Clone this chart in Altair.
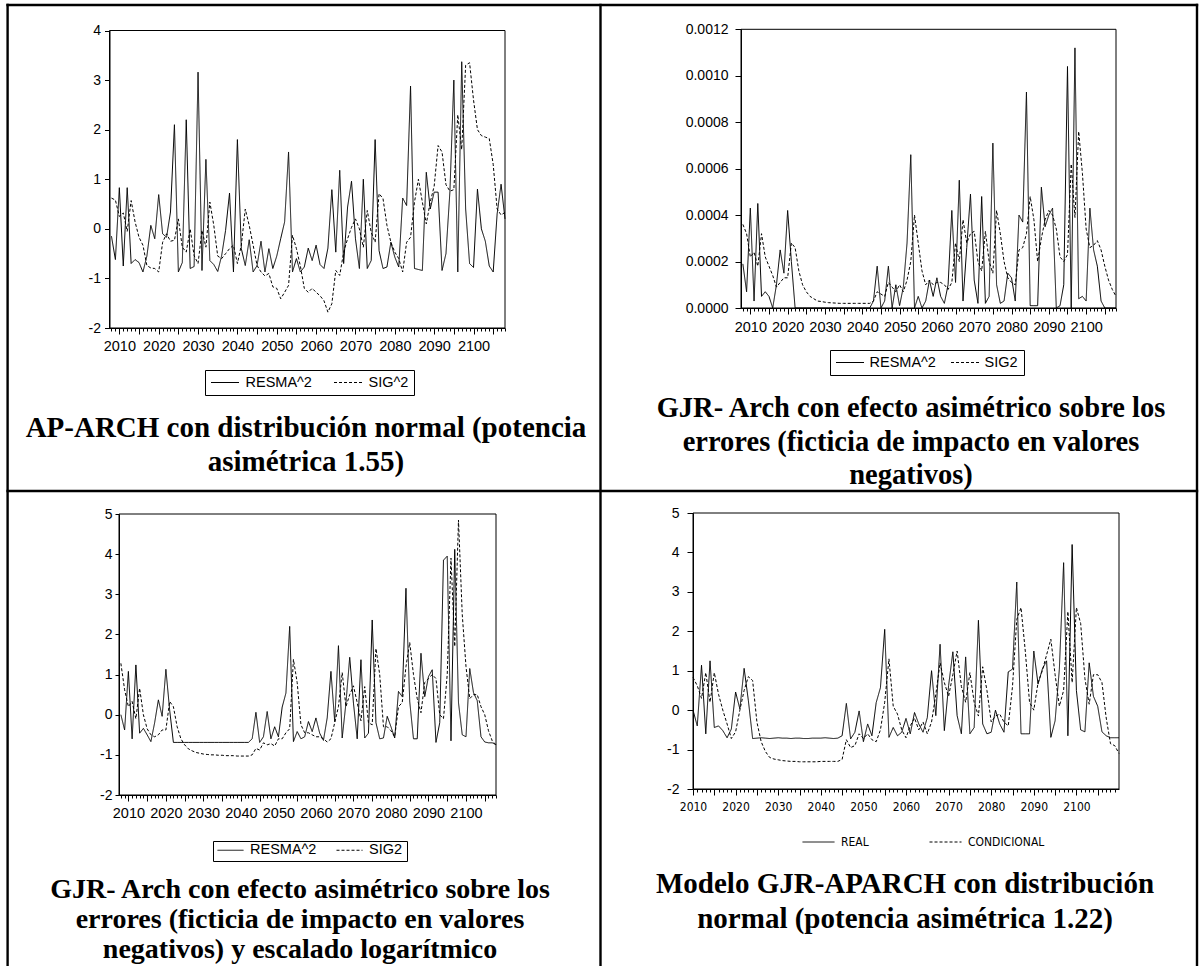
import altair as alt
import pandas as pd

W, H = 1202, 966

# ---------------- data ----------------
# Panel 1: AP-ARCH (years 2008-2108)
p1_start = 2008
p1_resma = [
    -0.15, -0.62, 0.83, -0.75, 0.83, -0.70, -0.62, -0.68, -0.87, -0.55,
    0.07, -0.20, 0.69, -0.10, -0.17, 0.34, 2.10, -0.87, -0.68, 2.20,
    -0.80, -0.76, 3.16, -0.84, 1.40, -0.64, -0.72, -0.86, -0.54, -0.03,
    0.72, -0.87, 1.80, -0.40, -0.74, -0.22, -0.87, -0.74, -0.25, -0.87,
    -0.40, -0.80, -0.55, -0.20, 0.14, 1.55, -0.87, -0.60, -0.87, -0.77,
    -0.39, -0.64, -0.33, -0.72, -0.80, -0.39, 0.79, -0.47, 1.18, -0.70,
    0.44, 0.96, -0.20, -0.80, 1.00, -0.80, -0.64, 1.80, -0.44, -0.80,
    -0.77, -0.27, -0.57, -0.77, 0.62, 0.47, 2.88, -0.80, -0.82, -0.84,
    1.14, 0.40, 0.74, 0.74, -0.84, -0.50, 0.75, 3.00, -0.87, 3.37,
    0.40, -0.70, -0.78, 0.80, 0.00, -0.25, -0.75, -0.87, 0.30, 0.90, 0.20,
]
p1_sig = [
    0.62, 0.58, 0.25, 0.32, -0.05, 0.57, 0.14, -0.17, -0.33, -0.74,
    -0.79, -0.80, -0.87, -0.27, -0.10, -0.25, -0.23, 0.20, -0.37, -0.47,
    0.00, -0.54, -0.70, -0.03, -0.37, 0.54, 0.07, -0.55, -0.60, -0.50,
    -0.40, -0.33, -0.70, -0.33, 0.40, 0.07, -0.33, -0.74, -0.87, -0.95,
    -0.90, -1.17, -1.20, -1.41, -1.28, -1.14, -0.13, -0.40, -0.75, -1.20,
    -1.28, -1.20, -1.28, -1.35, -1.45, -1.68, -1.51, -0.84, -0.94, -0.47,
    -0.20, 0.03, 0.20, 0.00, -0.37, 0.37, -0.07, -0.27, 0.71, 0.61,
    0.07, -0.27, -0.47, -0.60, -0.87, -0.27, -0.17, 0.54, 1.00, 0.54,
    0.10, 0.54, 0.86, 1.68, 1.55, 0.89, 0.76, 0.79, 2.30, 1.60,
    3.30, 3.35, 2.60, 2.00, 1.88, 1.85, 1.82, 1.30, 0.40, 0.28, 0.33,
]

# Panel 2: GJR-ARCH (years 2008-2108)
p2_start = 2008
p2_resma = [
    0.00019, 0.00007, 0.00043, 0.00003, 0.00045, 0.00005, 0.00007, 0.00005, 0.00000, 0.00010,
    0.00025, 0.00015, 0.00042, 0.00020, 0.00000, 0.00000, 0.00000, 0.00000, 0.00000, 0.00000,
    0.00000, 0.00000, 0.00000, 0.00000, 0.00000, 0.00000, 0.00000, 0.00000, 0.00000, 0.00000,
    0.00000, 0.00000, 0.00000, 0.00000, 0.00000, 0.00003, 0.00018, 0.00000, 0.00003, 0.00018,
    0.00000, 0.00010, 0.00001, 0.00009, 0.00028, 0.00066, 0.00000, 0.00005, 0.00000, 0.00003,
    0.00012, 0.00005, 0.00013, 0.00005, 0.00002, 0.00010, 0.00042, 0.00011, 0.00055, 0.00003,
    0.00026, 0.00049, 0.00012, 0.00002, 0.00048, 0.00002, 0.00005, 0.00071, 0.00010, 0.00002,
    0.00003, 0.00015, 0.00013, 0.00003, 0.00040, 0.00037, 0.00093, 0.00001, 0.00001, 0.00001,
    0.00052, 0.00035, 0.00040, 0.00043, 0.00000, 0.00001, 0.00010, 0.00104, 0.00000, 0.00112,
    0.00004, 0.00005, 0.00003, 0.00043, 0.00025, 0.00018, 0.00003, 0.00000, 0.00000, 0.00000, 0.00000,
]
p2_sig = [
    0.00036, 0.00032, 0.00022, 0.00024, 0.00018, 0.00032, 0.00022, 0.00018, 0.00014, 0.00009,
    0.00011, 0.00013, 0.00013, 0.00028, 0.00026, 0.00016, 0.00010, 0.00007, 0.00005, 0.00004,
    0.00003, 0.000028, 0.000025, 0.000023, 0.000022, 0.000021, 0.00002, 0.00002, 0.00002, 0.00002,
    0.00002, 0.00002, 0.00002, 0.00002, 0.00002, 0.00003, 0.00007, 0.00006, 0.00005, 0.00011,
    0.00009, 0.00007, 0.00010, 0.00007, 0.00012, 0.00020, 0.00040, 0.00028, 0.00016, 0.00010,
    0.00012, 0.00010, 0.00011, 0.00011, 0.00010, 0.00008, 0.00011, 0.00028, 0.00020, 0.00038,
    0.00028, 0.00032, 0.00033, 0.00020, 0.00016, 0.00033, 0.00020, 0.00015, 0.00042, 0.00032,
    0.00020, 0.00013, 0.00011, 0.00010, 0.00025, 0.00026, 0.00032, 0.00048, 0.00038, 0.00020,
    0.00030, 0.00038, 0.00042, 0.00040, 0.00034, 0.00022, 0.00020, 0.00023, 0.00062, 0.00039,
    0.00076, 0.00058, 0.00034, 0.00026, 0.00027, 0.00029, 0.00025, 0.00018, 0.00012, 0.00008, 0.00005,
]

# Panel 3: GJR-ARCH, logarithmic scaling (years 2008-2108)
p3_start = 2008
p3_resma = [
    0.00, -0.38, 1.08, -0.60, 1.24, -0.46, -0.34, -0.50, -0.67, -0.20,
    0.37, -0.04, 1.13, 0.12, -0.69, -0.69, -0.69, -0.69, -0.69, -0.69,
    -0.69, -0.69, -0.69, -0.69, -0.69, -0.69, -0.69, -0.69, -0.69, -0.69,
    -0.69, -0.69, -0.69, -0.69, -0.69, -0.60, 0.06, -0.69, -0.55, 0.08,
    -0.60, -0.30, -0.55, 0.19, 0.54, 2.20, -0.67, -0.42, -0.60, -0.55,
    -0.17, -0.42, -0.08, -0.46, -0.64, -0.08, 1.08, -0.17, 1.72, -0.58,
    0.29, 1.43, 0.29, -0.60, 1.37, -0.58, -0.46, 2.36, -0.20, -0.60,
    -0.58, -0.04, -0.30, -0.58, 0.58, 0.45, 3.15, 0.33, -0.60, -0.60,
    1.53, 0.45, 0.95, 1.12, -0.69, -0.20, 3.85, 3.95, -0.65, 4.12,
    0.30, -0.50, -0.55, 1.15, 0.55, 0.35, -0.55, -0.68, -0.70, -0.70, -0.75,
]
p3_sig = [
    1.28, 0.62, 0.20, 0.33, -0.10, 0.66, 0.00, -0.35, -0.50, -0.55,
    -0.50, -0.38, -0.38, 0.33, 0.20, -0.30, -0.60, -0.75, -0.85, -0.90,
    -0.94, -0.96, -0.98, -0.99, -1.00, -1.00, -1.01, -1.01, -1.02, -1.02,
    -1.02, -1.03, -1.03, -1.03, -1.03, -1.00, -0.84, -0.88, -0.70, -0.75,
    -0.72, -0.78, -0.60, -0.60, -0.45, -0.35, 1.38, 0.80, -0.25, -0.45,
    -0.45, -0.50, -0.55, -0.55, -0.60, -0.68, -0.60, -0.20, 0.20, 1.05,
    0.20, 0.50, 0.72, 0.30, -0.15, 0.70, -0.20, -0.25, 1.65, 1.00,
    -0.30, -0.30, -0.40, -0.55, 0.20, 0.30, 1.20, 1.80, 1.00, 0.40,
    0.05, 0.80, 0.90, 1.00, 0.90, 0.00, -0.10, 1.00, 3.90, 1.70,
    4.85, 2.50, 1.20, 0.40, 0.50, 0.50, 0.20, 0.00, -0.40, -0.65, -0.75,
]

# Panel 4: GJR-APARCH (years 2010-2110)
p4_start = 2010
p4_real = [
    0.00, -0.40, 1.14, -0.60, 1.25, -0.44, -0.40, -0.52, -0.70, -0.48,
    0.46, 0.03, 1.06, 0.24, -0.72, -0.71, -0.70, -0.71, -0.72, -0.71,
    -0.70, -0.71, -0.71, -0.72, -0.71, -0.71, -0.72, -0.72, -0.71, -0.71,
    -0.71, -0.70, -0.71, -0.72, -0.71, -0.65, 0.17, -0.73, -0.56, -0.02,
    -0.80, -0.35, -0.65, 0.19, 0.57, 2.05, -0.69, -0.44, -0.65, -0.56,
    -0.21, -0.60, -0.06, -0.35, -0.56, -0.19, 1.00, -0.14, 1.67, -0.52,
    0.62, 1.48, -0.14, -0.60, 1.35, -0.60, -0.44, 2.28, -0.35, -0.60,
    -0.56, 0.00, -0.35, -0.56, 0.97, 1.04, 3.25, -0.60, -0.60, -0.60,
    1.50, 0.66, 1.04, 1.25, -0.69, -0.27, 1.04, 3.74, -0.65, 4.20,
    0.50, -0.50, -0.55, 1.20, 0.35, 0.10, -0.55, -0.65, -0.70, -0.70, -0.70,
]
p4_cond = [
    0.83, 0.62, 0.30, 0.95, 0.20, 0.95, 0.40, 0.00, -0.35, -0.72,
    -0.55, 0.00, 0.50, 0.85, 0.75, -0.30, -0.80, -1.05, -1.20, -1.24,
    -1.26, -1.28, -1.29, -1.30, -1.30, -1.31, -1.31, -1.31, -1.31, -1.31,
    -1.30, -1.30, -1.30, -1.30, -1.30, -1.25, -0.75, -0.95, -0.90, -0.60,
    -0.72, -0.60, -0.75, -0.80, -0.50, 0.20, 1.30, 0.10, -0.10, -0.50,
    -0.70, -0.40, -0.20, -0.50, -0.30, -0.60, -0.30, 0.40, 1.20, 0.70,
    0.35, 0.90, 1.50, 0.60, 0.20, 0.95, 0.20, -0.15, 1.10, 0.50,
    -0.30, -0.15, -0.10, -0.30, -0.40, 0.60, 2.30, 2.60, 1.50, 0.20,
    0.00, 0.70, 1.00, 1.40, 1.80, 0.90, 0.10, 0.50, 2.50, 0.70,
    2.60, 2.20, 0.80, 0.15, 0.90, 0.90, 0.70, -0.20, -0.85, -0.90, -1.10,
]

p1_names = ["RESMA^2", "SIG^2"]
p2_names = ["RESMA^2", "SIG2"]
p3_names = ["RESMA^2", "SIG2"]
p4_names = ["REAL", "CONDICIONAL"]

p1_yticks = [-2, -1, 0, 1, 2, 3, 4]
p2_yticks = [0.0, 0.0002, 0.0004, 0.0006, 0.0008, 0.001, 0.0012]
p3_yticks = [-2, -1, 0, 1, 2, 3, 4, 5]
p4_yticks = [-2, -1, 0, 1, 2, 3, 4, 5]

p123_xticks = list(range(2008, 2109))
p4_xticks = list(range(2010, 2110))

cap1 = ["AP-ARCH con distribución normal (potencia", "asimétrica 1.55)"]
cap2 = ["GJR- Arch con efecto asimétrico sobre los",
        "errores (ficticia de impacto en valores", "negativos)"]
cap3 = ["GJR- Arch con efecto asimétrico sobre los",
        "errores (ficticia de impacto en valores",
        "negativos) y escalado logarítmico"]
cap4 = ["Modelo GJR-APARCH con distribución", "normal (potencia asimétrica 1.22)"]

SANS = "Liberation Sans, Arial, sans-serif"
NARROW = "Liberation Sans Narrow, DejaVu Sans Condensed, Liberation Sans, sans-serif"
SERIF = "Liberation Serif, Times New Roman, serif"


def long_df(start, a, b, names):
    recs = [{"t": start + i, "v": v, "s": names[0]} for i, v in enumerate(a)]
    recs += [{"t": start + i, "v": v, "s": names[1]} for i, v in enumerate(b)]
    return pd.DataFrame(recs)


def panel(df, names, xdom, xpx, ydom, ypx, yvals, yfmt, ytick, ypad,
          xvals, xfont, xsize, xpad, leg):
    x_axis = alt.Axis(
        orient="bottom", offset=ypx[0] - H, values=xvals,
        labelExpr="datum.value % 10 === 0 ? format(datum.value, 'd') : ''",
        tickSize=alt.condition("datum.value % 5 === 0", alt.value(6), alt.value(3)),
        tickColor="black", tickWidth=1,
        domainColor="black", domainWidth=1,
        labelPadding=xpad, labelFont=xfont, labelFontSize=xsize, labelColor="black",
        labelOverlap=False, labelFlush=False, labelBound=False, grid=False, title=None,
    )
    ykw = dict(
        orient="left", offset=-xpx[0], values=yvals,
        tickSize=ytick, tickColor="black", tickWidth=1,
        domainColor="black", domainWidth=1,
        labelPadding=ypad, labelFont=SANS, labelFontSize=14, labelColor="black",
        labelOverlap=False, labelFlush=False, labelBound=False, grid=False, title=None,
    )
    if yfmt:
        ykw["format"] = yfmt
    else:
        ykw["labelExpr"] = "toString(datum.value)"
    y_axis = alt.Axis(**ykw)

    lines = alt.Chart(df).mark_line(color="black", strokeWidth=1).encode(
        x=alt.X("t:Q", scale=alt.Scale(domain=xdom, range=xpx, nice=False, zero=False), axis=x_axis),
        y=alt.Y("v:Q", scale=alt.Scale(domain=ydom, range=[ypx[0], ypx[1]], nice=False, zero=False), axis=y_axis),
        strokeDash=alt.StrokeDash(
            "s:N",
            scale=alt.Scale(domain=names, range=[[1, 0], [3, 2]]),
            legend=alt.Legend(title=None, orient="none", direction="horizontal",
                              symbolType="stroke", symbolStrokeColor="black",
                              symbolStrokeWidth=1, labelFont=leg.get("font", SANS),
                              labelFontSize=leg.get("fsize", 14.5), labelColor="black",
                              legendX=leg["x"], legendY=leg["y"], padding=leg["pad"],
                              clipHeight=leg["clip"], symbolSize=leg["sym"] ** 2,
                              labelOffset=leg["loff"], columnPadding=leg["cpad"],
                              strokeColor=leg.get("stroke", "black"), fillColor="white"),
        ),
    )
    frame = alt.Chart().mark_rect(fillOpacity=0, stroke="black", strokeWidth=1).encode(
        x=alt.value(xpx[0]), x2=alt.value(xpx[1]), y=alt.value(ypx[1]), y2=alt.value(ypx[0])
    )
    return alt.layer(lines, frame)


p1 = panel(long_df(p1_start, p1_resma, p1_sig, p1_names), p1_names,
           [2007.5, 2108], [109.5, 505], [-2, 4], [328, 30.5], p1_yticks, None, 5, 4,
           p123_xticks, SANS, 14.5, 5,
           dict(x=205, y=370, pad=5.5, clip=14, sym=28, loff=6, cpad=21))
p2 = panel(long_df(p2_start, p2_resma, p2_sig, p2_names), p2_names,
           [2007.5, 2108], [741, 1116], [0, 0.0012], [308, 29.3], p2_yticks, ".4f", 6, 7,
           p123_xticks, SANS, 14.5, 6,
           dict(x=830, y=350, pad=5.5, clip=14, sym=28, loff=5, cpad=14))
p3 = panel(long_df(p3_start, p3_resma, p3_sig, p3_names), p3_names,
           [2007.5, 2108], [119, 496], [-2, 5], [795, 514], p3_yticks, None, 4, 3,
           p123_xticks, SANS, 14.5, 5,
           dict(x=213, y=841, pad=4, clip=10, sym=26, loff=6, cpad=19))
p4 = panel(long_df(p4_start, p4_real, p4_cond, p4_names), p4_names,
           [2010, 2110], [693, 1119], [-2, 5], [789, 513], p4_yticks, None, 6, 8,
           p4_xticks, NARROW, 12, 6,
           dict(x=802, y=835, pad=0, clip=14, sym=32, loff=6, cpad=60,
                font=NARROW, fsize=12, stroke="transparent"))


def vrule(x, y0, y1):
    return alt.Chart().mark_rule(color="black", strokeWidth=2.4).encode(
        x=alt.value(x), y=alt.value(y0), y2=alt.value(y1))


def hrule(y, x0, x1):
    return alt.Chart().mark_rule(color="black", strokeWidth=2.4).encode(
        y=alt.value(y), x=alt.value(x0), x2=alt.value(x1))


table = [
    hrule(5, 6.4, 1198.2),
    hrule(491, 6.4, 1198.2),
    vrule(7.6, 3.8, H),
    vrule(600.5, 3.8, H),
    vrule(1197, 3.8, H),
]


def caption(lines, cx, y, lh, size):
    return alt.Chart().mark_text(font=SERIF, fontWeight="bold", fontSize=size, align="center",
                                 baseline="alphabetic", lineHeight=lh, color="black").encode(
        x=alt.value(cx), y=alt.value(y), text=alt.value(lines))


caps = [
    caption(cap1, 306, 437, 33.5, 29),
    caption(cap2, 911, 417, 33.5, 28.5),
    caption(cap3, 300, 898, 30, 28),
    caption(cap4, 905, 893, 35, 29),
]

chart = alt.layer(*table, p1, p2, p3, p4, *caps).resolve_scale(
    x="independent", y="independent", strokeDash="independent"
).resolve_legend(strokeDash="independent").properties(
    width=W, height=H, autosize=alt.AutoSizeParams(type="none"), padding=0, background="white"
).configure_view(stroke="transparent")

chart.save("out.html", embed_options={"renderer": "svg", "actions": False})
